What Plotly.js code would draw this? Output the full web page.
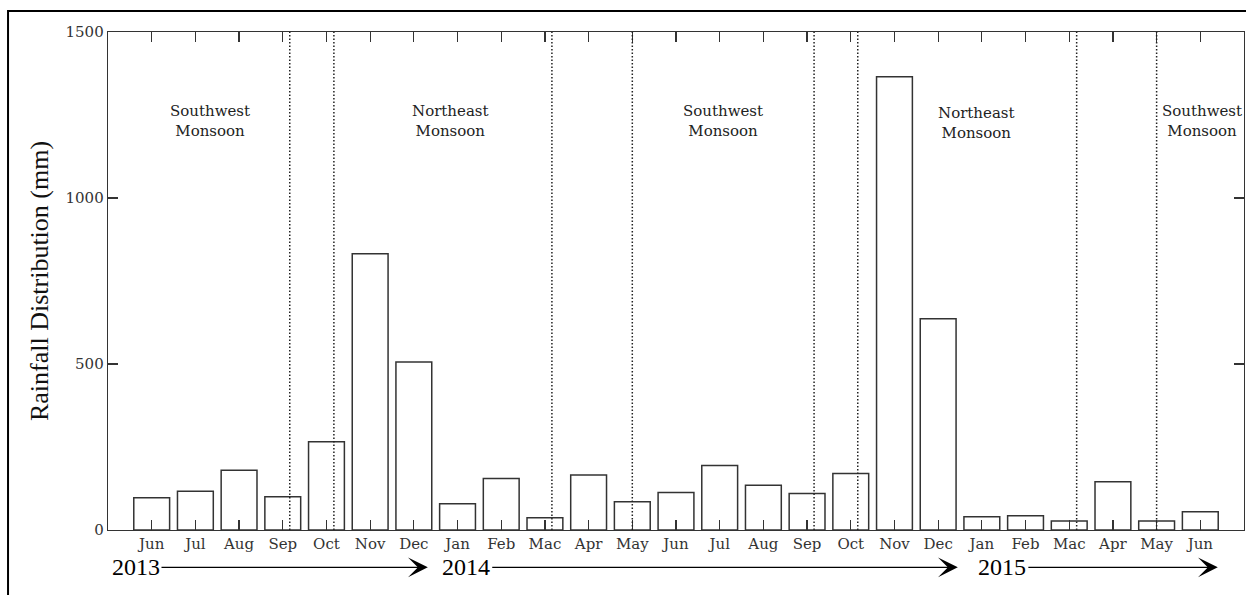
<!DOCTYPE html>
<html><head><meta charset="utf-8">
<script src="https://cdn.plot.ly/plotly-3.0.1.min.js"></script>
<style>body{margin:0;background:#fff}</style>
</head><body><div id="chart" style="width:1246px;height:595px"></div>
<script>
const months = ['Jun','Jul','Aug','Sep','Oct','Nov','Dec','Jan','Feb','Mac','Apr','May','Jun','Jul','Aug','Sep','Oct','Nov','Dec','Jan','Feb','Mac','Apr','May','Jun'];
const rainfall = [97,117,180,100,266,832,506,79,155,37,166,85,113,194,135,110,170,1365,636,40,43,27,145,27,55];
const seasonBoundaries = [4.16,5.17,10.16,12.0,16.16,17.16,22.17,24.0];
const seasonLabels = ['Southwest<br>Monsoon','Northeast<br>Monsoon','Southwest<br>Monsoon','Northeast<br>Monsoon','Southwest<br>Monsoon'];
const yearLabels = ['2013','2014','2015'];
const yTicks = [0,500,1000,1500];

const xpos = months.map((m,i)=>i+1);
const serif = 'DejaVu Serif';
const times = 'Liberation Serif';

const trace = {
  type:'bar', x:xpos, y:rainfall, width:0.82,
  marker:{color:'#ffffff', line:{color:'#333333', width:1.5}},
  hoverinfo:'skip', showlegend:false
};

const shapes = seasonBoundaries.map(b=>({
  type:'line', xref:'x', yref:'paper', x0:b, x1:b, y0:0, y1:1,
  line:{color:'#222', width:1.5, dash:'1.5px,2px'}
}));
shapes.push({type:'rect', xref:'paper', yref:'paper', x0:-0.088, x1:1.2, y0:1.042, y1:-0.2,
  line:{color:'#000', width:2}, fillcolor:'rgba(0,0,0,0)'});

const labelPos = [[2.33,1232],[7.85,1232],[14.07,1232],[19.87,1225],[25.03,1232]];
const annotations = seasonLabels.map((t,i)=>({
  text:t, x:labelPos[i][0], y:labelPos[i][1], xref:'x', yref:'y', showarrow:false,
  font:{family:serif, size:15, color:'#222'}, align:'center'
}));
const yearPos = [0.64,8.19,20.46];
const arrows = [[1.19,7.32],[8.76,19.45],[21.03,25.4]];
const yP = -0.075;
yearLabels.forEach((t,i)=>{
  annotations.push({text:t, x:yearPos[i], y:yP, xref:'x', yref:'paper', showarrow:false,
    xanchor:'center', yanchor:'middle', font:{family:times, size:24, color:'#000'}});
  annotations.push({text:'', x:arrows[i][1], y:yP, xref:'x', yref:'paper', showarrow:true,
    ax:arrows[i][0], ay:0, axref:'x', ayref:'pixel', arrowhead:3, arrowsize:3, arrowwidth:1.1,
    arrowcolor:'#000', standoff:0, startstandoff:0});
});

const layout = {
  width:1246, height:595,
  margin:{l:108, r:2, t:32, b:65, pad:0},
  paper_bgcolor:'#fff', plot_bgcolor:'#fff',
  showlegend:false,
  xaxis:{range:[0,26], tickvals:xpos, ticktext:months, ticks:'inside', ticklen:10, tickwidth:1.2,
    tickcolor:'#333', showline:true, linecolor:'#333', linewidth:1.3, mirror:'ticks',
    showgrid:false, zeroline:false, tickfont:{family:serif, size:15, color:'#333'}, fixedrange:true},
  yaxis:{range:[0,1500], tickvals:yTicks, ticks:'inside', ticklen:10, tickwidth:1.2,
    tickcolor:'#333', showline:true, linecolor:'#333', linewidth:1.3, mirror:'ticks',
    showgrid:false, zeroline:false, tickfont:{family:serif, size:15, color:'#333'},
    title:{text:'Rainfall Distribution (mm)', font:{family:times, size:26, color:'#111'}, standoff:9},
    fixedrange:true},
  shapes:shapes, annotations:annotations, bargap:0
};
Plotly.newPlot('chart',[trace],layout,{displayModeBar:false, staticPlot:true});
</script></body></html>
